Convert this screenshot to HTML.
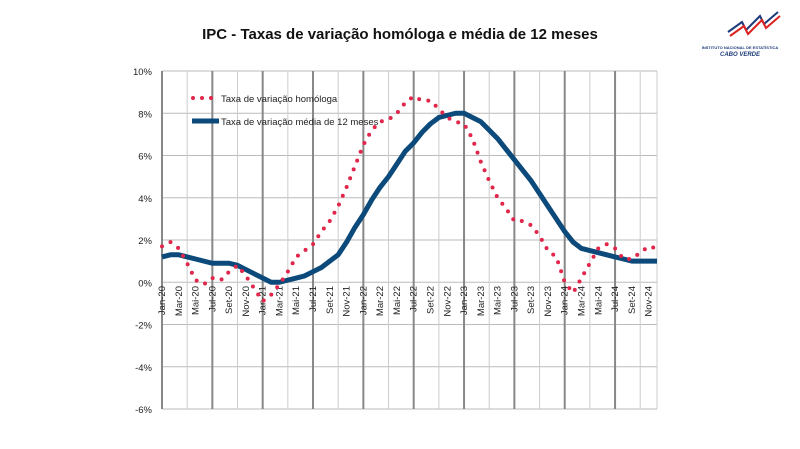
<!DOCTYPE html>
<html><head><meta charset="utf-8"><style>
body{margin:0;background:#fff;width:800px;height:444px;overflow:hidden;font-family:"Liberation Sans",sans-serif}
</style></head><body>
<svg width="800" height="444">
<text x="400" y="39" text-anchor="middle" font-size="15" font-weight="bold" fill="#111">IPC - Taxas de variação homóloga e média de 12 meses</text>
<g>
<polyline points="728,32 742,22 746,30 760,16 764,24 778,12" fill="none" stroke="#1d3b7a" stroke-width="2"/>
<polyline points="730,36 744,26 748,34 762,20 766,28 780,16" fill="none" stroke="#d22" stroke-width="2"/>
<text x="740" y="49" text-anchor="middle" font-size="4" font-weight="bold" fill="#1d3b7a">INSTITUTO NACIONAL DE ESTATÍSTICA</text>
<text x="740" y="56" text-anchor="middle" font-size="6" font-weight="bold" font-style="italic" fill="#1d3b7a">CABO VERDE</text>
</g>
<g id="grid"></g><g id="axes"></g><g id="series"></g>
<g>
<line x1="193" y1="98" x2="216" y2="98" stroke="#e0264a" stroke-width="4" stroke-linecap="round" stroke-dasharray="0 9"/>
<text x="221" y="102" font-size="9.5" fill="#222">Taxa de variação homóloga</text>
<line x1="192" y1="121" x2="219" y2="121" stroke="#0b4a7a" stroke-width="5"/>
<text x="221" y="125" font-size="9.5" fill="#222">Taxa de variação média de 12 meses</text>
</g>
</svg>
<script>
const months=["Jan","Fev","Mar","Abr","Mai","Jun","Jul","Ago","Set","Out","Nov","Dez"];
const years=["20","21","22","23","24"];
const yTicks=[-6,-4,-2,0,2,4,6,8,10];
const homologa=[1.7,1.9,1.6,0.9,0.1,-0.1,0.2,0.1,0.5,0.8,0.3,-0.3,
-0.9,-0.6,-0.1,0.5,1.2,1.5,1.8,2.4,2.9,3.6,4.5,5.5,
6.5,7.2,7.6,7.7,8.0,8.5,8.8,8.6,8.6,8.2,7.8,7.6,
7.5,6.8,5.7,4.8,4.0,3.5,2.9,2.9,2.7,2.2,1.5,1.2,
0.0,-0.5,0.2,0.9,1.6,1.8,1.6,1.1,1.1,1.4,1.7,1.6];
const media12=[1.2,1.3,1.3,1.2,1.1,1.0,0.9,0.9,0.9,0.8,0.6,0.4,
0.2,0.0,0.0,0.1,0.2,0.3,0.5,0.7,1.0,1.3,1.9,2.6,
3.2,3.9,4.5,5.0,5.6,6.2,6.6,7.1,7.5,7.8,7.9,8.0,
8.0,7.8,7.6,7.2,6.8,6.3,5.8,5.3,4.8,4.2,3.6,3.0,
2.4,1.9,1.6,1.5,1.4,1.3,1.2,1.1,1.0,1.0,1.0,1.0];
const NS="http://www.w3.org/2000/svg";
const L=162,R=657,T=71,B=409,N=homologa.length;
const x=i=>L+i*(R-L)/(N-1);
const y=v=>T+(10-v)*(B-T)/16;
function mk(tag,a,p){const e=document.createElementNS(NS,tag);for(const k in a)e.setAttribute(k,a[k]);p.appendChild(e);return e;}
const grid=document.getElementById('grid'),axes=document.getElementById('axes'),ser=document.getElementById('series');
yTicks.forEach(v=>{
 const g=mk('line',{x1:L,x2:R,y1:y(v),y2:y(v),stroke:'#bbb','stroke-width':1},grid);
 
 
 const t=mk('text',{x:152,y:y(v)+4,'text-anchor':'end','font-size':9.5,fill:'#222'},axes);
 t.textContent=v+'%';
 
 
});
for(let i=0;i<N;i+=3){
 const major=i%6===0;
 const g=mk('line',{x1:x(i),x2:x(i),y1:T,y2:B,stroke:major?'#888':'#ccc','stroke-width':major?2:1},grid);
 
 
}
for(let i=0;i<N;i+=2){
 const lab=months[i%12]+'-'+years[Math.floor(i/12)];
 const t=mk('text',{transform:`translate(${x(i)+3},286) rotate(-90)`,'text-anchor':'end','font-size':9.5,fill:'#222'},axes);
 t.textContent=lab;
 
 
}
mk('line',{x1:R,x2:R,y1:T,y2:B,stroke:'#ccc'},grid);
const pm=media12.map((v,i)=>x(i)+','+y(v)).join(' ');
const l1=mk('polyline',{points:pm,fill:'none',stroke:'#0b4a7a','stroke-width':5,'stroke-linejoin':'round'},ser);


const ph=homologa.map((v,i)=>x(i)+','+y(v)).join(' ');
const l2=mk('polyline',{points:ph,fill:'none',stroke:'#e0264a','stroke-width':4,'stroke-linecap':'round','stroke-dasharray':'0 9.5'},ser);


</script>
</body></html>
